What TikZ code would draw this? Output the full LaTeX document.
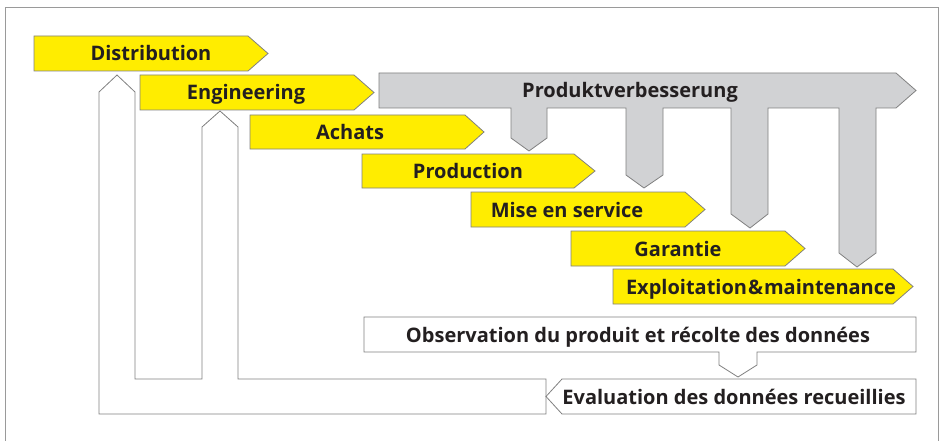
\documentclass[tikz,border=0pt]{standalone}
\usepackage{fontspec}
\setmainfont{Open Sans}
\definecolor{fhy}{HTML}{FFED00}
\definecolor{pgrey}{HTML}{D1D2D4}
\definecolor{edge}{HTML}{808080}
\definecolor{frame}{HTML}{9A9A9A}
\definecolor{ink}{HTML}{231F20}
\begin{document}
\begin{tikzpicture}[x=1pt,y=-1pt,
  shapeline/.style={draw=edge,line width=0.8pt,line join=miter},
  yel/.style={shapeline,fill=fhy},
  gry/.style={shapeline,fill=pgrey},
  wht/.style={shapeline,fill=white},
  lbl/.style={font=\fontsize{20}{23}\selectfont\bfseries,text=ink,inner sep=0pt,anchor=base}]
\useasboundingbox (0,0) rectangle (944,441);
\draw[frame,line width=0.8pt] (5,441) -- (5,7) -- (938,7) -- (938,441);

% feedback arrows (white)
\draw[wht] (99,414) -- (546,414) -- (546,379) -- (238,379) -- (238,127) -- (220,111)
  -- (202,127) -- (202,379) -- (135,379) -- (135,92) -- (117,75) -- (99,92) -- cycle;

% grey Produktverbesserung
\draw[gry] (379,73) -- (896,73) -- (916,90.5) -- (896,108) -- (876,108) -- (876,253)
  -- (857,267) -- (839,253) -- (839,108) -- (768,108) -- (768,214) -- (750,228)
  -- (731,214) -- (731,108) -- (663,108) -- (663,175) -- (644,188) -- (626,175)
  -- (626,108) -- (547,108) -- (547,138) -- (529,151) -- (511,138) -- (511,108)
  -- (379,108) -- cycle;

% yellow phases
\draw[yel] (34,36) -- (248,36) -- (268,53.5) -- (248,71) -- (34,71) -- cycle;
\draw[yel] (140,75) -- (354,75) -- (374,92.5) -- (354,110) -- (140,110) -- cycle;
\draw[yel] (250,115) -- (465,115) -- (484,132) -- (465,149) -- (250,149) -- cycle;
\draw[yel] (362,154) -- (574,154) -- (595,171) -- (574,188) -- (362,188) -- cycle;
\draw[yel] (471,192) -- (685,192) -- (705,209.5) -- (685,227) -- (471,227) -- cycle;
\draw[yel] (571,231) -- (785,231) -- (805,248.5) -- (785,266) -- (571,266) -- cycle;
\draw[yel] (613,269) -- (893,269) -- (913,286.5) -- (893,304) -- (613,304) -- cycle;

% observation and evaluation
\draw[wht] (364,317) -- (916,317) -- (916,352) -- (757,352) -- (757,365) -- (738,377)
  -- (719,365) -- (719,352) -- (364,352) -- cycle;
\draw[wht] (546,396.5) -- (562,379) -- (916,379) -- (916,414) -- (562,414) -- cycle;

% labels
\node[lbl] (dist) at (151,61) {Distribution};
\node[lbl] (eng) at (246,100) {Engineering};
\node[lbl] (ach) at (350,139.5) {Achats};
\node[lbl] (prod) at (468,178.5) {Production};
\node[lbl] (mise) at (567,217) {Mise en service};
\node[lbl] (gar) at (678,256) {Garantie};
\node[lbl] (expl) at (761,294) {Exploitation\kern1pt\&\kern1pt maintenance};
\node[lbl] (pv) at (630,98) {Produktverbesserung};
\node[lbl] (obs) at (638,342) {Observation du produit et récolte des données};
\node[lbl] (eval) at (734,404) {Evaluation des données recueillies};
\end{tikzpicture}
\end{document}
